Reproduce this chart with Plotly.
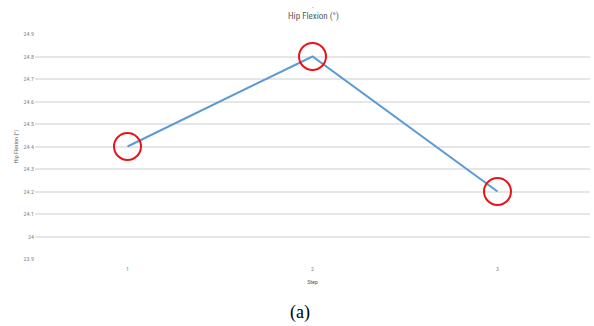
import plotly.graph_objects as go

steps = [1, 2, 3]
hip_flexion = [24.4, 24.8, 24.2]
y_ticks = [23.9, 24.0, 24.1, 24.2, 24.3, 24.4, 24.5, 24.6, 24.7, 24.8, 24.9]
y_tick_text = ["23.9", "24", "24.1", "24.2", "24.3", "24.4", "24.5", "24.6", "24.7", "24.8", "24.9"]

font_family = "Liberation Sans Narrow, Roboto Condensed, Roboto, Arial, sans-serif"

W, H = 594, 326
ML, MR, MT, MB = 35, 4, 34, 67

fig = go.Figure()
fig.add_trace(go.Scatter(
    x=steps, y=hip_flexion, mode="lines",
    line=dict(color="#5b9bd5", width=2),
    showlegend=False, hoverinfo="skip"))
fig.add_trace(go.Scatter(
    x=steps, y=hip_flexion, mode="markers",
    marker=dict(symbol="circle-open", size=27, color="#e8141b",
                line=dict(color="#e8141b", width=2)),
    showlegend=False, cliponaxis=False))

plot_h = H - MT - MB
plot_w = W - ML - MR


def py(pix):
    return (H - MB - pix) / plot_h


def px(pix):
    return (pix - ML) / plot_w


fig.update_layout(
    width=W, height=H,
    margin=dict(l=ML, r=MR, t=MT, b=MB),
    paper_bgcolor="white", plot_bgcolor="white",
    font=dict(family=font_family, color="#595959", size=6),
    xaxis=dict(range=[0.5, 3.5], tickvals=steps, ticktext=[str(s) for s in steps],
               showgrid=False, zeroline=False, showline=False,
               tickfont=dict(size=6, color="#7f7f7f"), ticks="",
               ticklabelstandoff=5,
               title=dict(text="Step", font=dict(size=6, color="#595959"), standoff=8)),
    yaxis=dict(range=[23.9, 24.9], tickvals=y_ticks, ticktext=y_tick_text,
               showgrid=True, gridcolor="#e6e6e6", gridwidth=1.5,
               zeroline=False, showline=False, ticks="",
               tickfont=dict(size=6, color="#7f7f7f"),
               title=dict(text="Hip Flexion (°)", font=dict(size=6, color="#595959"), standoff=4)),
    annotations=[
        dict(text="Hip Flexion (°)", x=px(313), y=py(17), xref="paper", yref="paper",
             showarrow=False, font=dict(size=9, color="#595959"),
             xanchor="center", yanchor="middle"),
        dict(text="-", x=px(313), y=py(7), xref="paper", yref="paper",
             showarrow=False, font=dict(size=6, color="#595959"),
             xanchor="center", yanchor="middle"),
        dict(text="(a)", x=px(300), y=py(312), xref="paper", yref="paper",
             showarrow=False, font=dict(size=18, color="black",
                                        family="Liberation Serif, Times New Roman, serif"),
             xanchor="center", yanchor="middle"),
    ],
)

fig.write_html("out.html",
               config={"displayModeBar": False},
               post_script="document.body.style.margin='0';document.body.style.padding='0';")
